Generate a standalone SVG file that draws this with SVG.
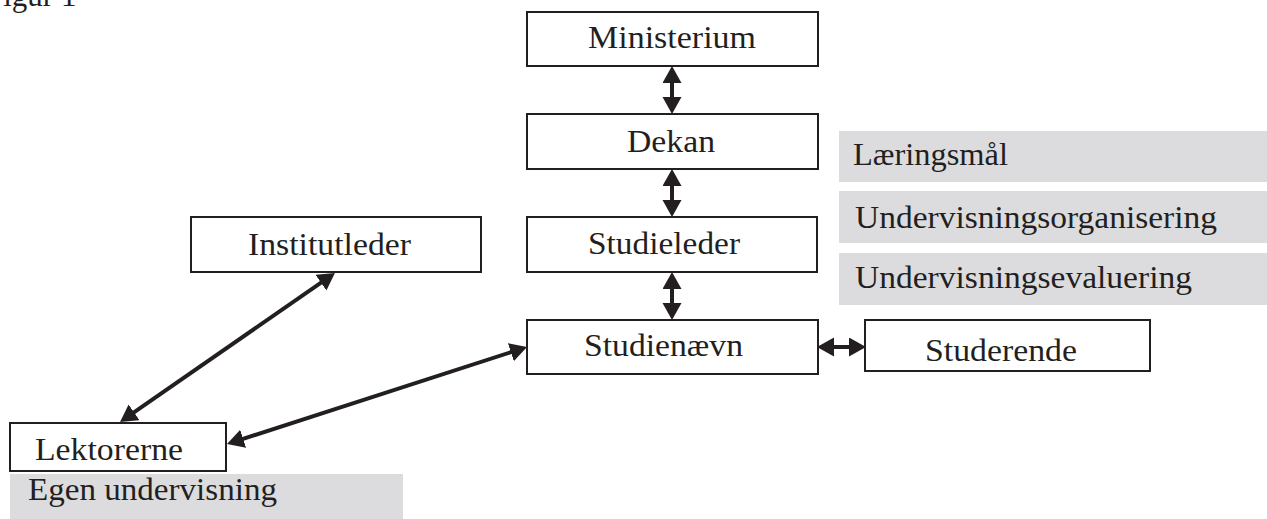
<svg xmlns="http://www.w3.org/2000/svg" width="1267" height="519" viewBox="0 0 1267 519">
<defs>
<style>
.box{fill:#ffffff;stroke:#231f20;stroke-width:2}
.tag{fill:#dcdcde;stroke:none}
.t{font-family:"Liberation Serif","Times New Roman",serif;font-size:31px;fill:#231f20}
.c{stroke:#231f20;stroke-width:4;fill:none;marker-start:url(#ah);marker-end:url(#ah)}
</style>
<marker id="ah" markerUnits="userSpaceOnUse" markerWidth="18" markerHeight="20" refX="1" refY="9.5" orient="auto-start-reverse" viewBox="0 0 18 20">
<path d="M0,0 L17,9.5 L0,19 Z" fill="#231f20"/>
</marker>
</defs>
<rect width="1267" height="519" fill="#ffffff"/>
<text class="t" x="-14" y="6">Figur 1</text>
<g id="connectors">
<line class="c" x1="672" y1="82" x2="672" y2="98"/>
<line class="c" x1="672" y1="185" x2="672" y2="201"/>
<line class="c" x1="672" y1="288" x2="672" y2="304"/>
<line class="c" x1="833" y1="347" x2="850" y2="347"/>
<line class="c" x1="321.8" y1="282.1" x2="133.2" y2="412.9"/>
<line class="c" x1="511.8" y1="351.9" x2="242.2" y2="439.1"/>
</g>
<g id="ministerium"><rect class="box" x="527" y="12" width="291" height="54"/><text class="t" x="588" y="48" textLength="168" lengthAdjust="spacingAndGlyphs">Ministerium</text></g>
<g id="dekan"><rect class="box" x="527" y="114" width="291" height="55"/><text class="t" x="627" y="152" textLength="88" lengthAdjust="spacingAndGlyphs">Dekan</text></g>
<g id="studieleder"><rect class="box" x="527" y="217" width="290" height="55"/><text class="t" x="588" y="254" textLength="152" lengthAdjust="spacingAndGlyphs">Studieleder</text></g>
<g id="studienaevn"><rect class="box" x="527" y="320" width="291" height="54"/><text class="t" x="584" y="356" textLength="159" lengthAdjust="spacingAndGlyphs">Studienævn</text></g>
<g id="studerende"><rect class="box" x="865" y="320" width="285" height="51"/><text class="t" x="925" y="361" textLength="152" lengthAdjust="spacingAndGlyphs">Studerende</text></g>
<g id="institutleder"><rect class="box" x="191" y="217" width="290" height="55"/><text class="t" x="248" y="255" textLength="163" lengthAdjust="spacingAndGlyphs">Institutleder</text></g>
<g id="lektorerne"><rect class="box" x="10" y="423" width="216" height="48"/><text class="t" x="35" y="460" textLength="148" lengthAdjust="spacingAndGlyphs">Lektorerne</text></g>
<g id="egen-undervisning"><rect class="tag" x="10" y="474" width="393" height="45"/><text class="t" x="28" y="500" textLength="249" lengthAdjust="spacingAndGlyphs">Egen undervisning</text></g>
<g id="laeringsmaal"><rect class="tag" x="839" y="131" width="428" height="51"/><text class="t" x="853" y="165" textLength="155" lengthAdjust="spacingAndGlyphs">Læringsmål</text></g>
<g id="undervisningsorganisering"><rect class="tag" x="839" y="191" width="428" height="52"/><text class="t" x="855" y="228" textLength="362" lengthAdjust="spacingAndGlyphs">Undervisningsorganisering</text></g>
<g id="undervisningsevaluering"><rect class="tag" x="839" y="253" width="428" height="52"/><text class="t" x="855" y="288" textLength="337" lengthAdjust="spacingAndGlyphs">Undervisningsevaluering</text></g>
</svg>
